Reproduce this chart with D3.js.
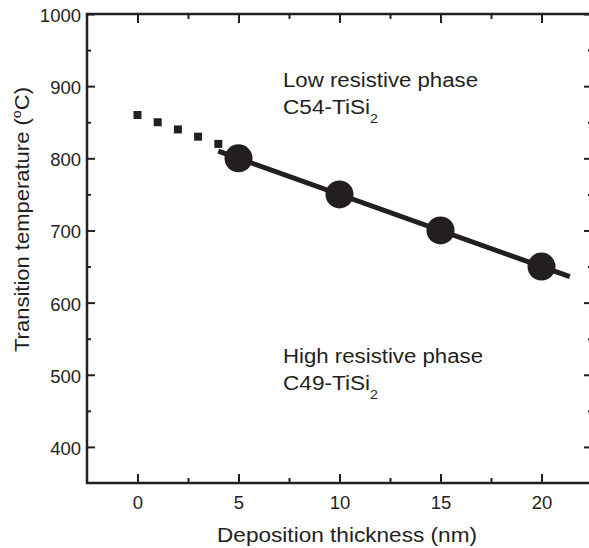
<!DOCTYPE html>
<html>
<head>
<meta charset="utf-8">
<script src="https://cdn.jsdelivr.net/npm/d3@7"></script>
<style>
  html, body { margin: 0; padding: 0; background: #fff; }
  svg { display: block; }
  text { font-family: "Liberation Sans", Arial, Helvetica, sans-serif; fill: #231f20; }
</style>
</head>
<body>
<svg id="chart" width="589" height="548"></svg>
<script>
// Onset temperature of the C49 -> C54 TiSi2 transformation vs. deposited thickness
const measuredThickness = [5, 10, 15, 20];          // nm
const measuredTemperature = [800, 750, 700, 650];   // °C
const extrapThickness = [0, 1, 2, 3, 4];            // nm
const extrapTemperature = [860, 850, 840, 830, 820];
const fitThickness = [4, 21.4];
const fitTemperature = [810, 636];

const xMajorTicks = [0, 5, 10, 15, 20];
const xMinorTicks = [2.5, 7.5, 12.5, 17.5];
const yMajorTicks = [400, 500, 600, 700, 800, 900, 1000];
const yMinorTicks = [450, 550, 650, 750, 850, 950];

const ink = "#231f20";
const svg = d3.select("#chart");

const plotLeft = 87, plotRight = 592, plotTop = 14, plotBottom = 483;
const x = d3.scaleLinear().domain([-2.5, 22.5]).range([plotLeft, plotRight]);
const y = d3.scaleLinear().domain([350, 1000]).range([plotBottom, plotTop]);

// Frame
svg.append("rect")
  .attr("x", plotLeft).attr("y", plotTop)
  .attr("width", plotRight - plotLeft).attr("height", plotBottom - plotTop)
  .attr("fill", "none").attr("stroke", ink).attr("stroke-width", 2.5);

function styleAxis(g, labelSize) {
  g.select(".domain").remove();
  g.selectAll(".tick line").attr("stroke", ink).attr("stroke-width", 2);
  g.selectAll(".tick text").attr("fill", ink)
    .style("font-family", '"Liberation Sans", Arial, sans-serif')
    .style("font-size", labelSize + "px");
}

// Bottom axis with labels
svg.append("g").attr("transform", `translate(0,${plotBottom})`)
  .call(d3.axisBottom(x).tickValues(xMajorTicks).tickFormat(d3.format("d"))
    .tickSizeInner(-9).tickSizeOuter(0))
  .call(g => styleAxis(g, 18.5))
  .call(g => g.selectAll(".tick text").attr("dy", "0.71em").attr("y", 12.5));
svg.append("g").attr("transform", `translate(0,${plotBottom})`)
  .call(d3.axisBottom(x).tickValues(xMinorTicks).tickSize(-5).tickFormat(""))
  .call(g => styleAxis(g, 18));

// Top axis (ticks only)
svg.append("g").attr("transform", `translate(0,${plotTop})`)
  .call(d3.axisTop(x).tickValues(xMajorTicks).tickSize(-9).tickFormat(""))
  .call(g => styleAxis(g, 18));
svg.append("g").attr("transform", `translate(0,${plotTop})`)
  .call(d3.axisTop(x).tickValues(xMinorTicks).tickSize(-5).tickFormat(""))
  .call(g => styleAxis(g, 18));

// Left axis with labels
svg.append("g").attr("transform", `translate(${plotLeft},0)`)
  .call(d3.axisLeft(y).tickValues(yMajorTicks).tickFormat(d3.format("d"))
    .tickSizeInner(-8).tickSizeOuter(0))
  .call(g => styleAxis(g, 18.5))
  .call(g => g.selectAll(".tick text").attr("x", -6).attr("dy", "0.4em"));
svg.append("g").attr("transform", `translate(${plotLeft},0)`)
  .call(d3.axisLeft(y).tickValues(yMinorTicks).tickSize(-4).tickFormat(""))
  .call(g => styleAxis(g, 18));

// Right axis (ticks only)
svg.append("g").attr("transform", `translate(${plotRight},0)`)
  .call(d3.axisRight(y).tickValues(yMajorTicks).tickSize(-8).tickFormat(""))
  .call(g => styleAxis(g, 18));
svg.append("g").attr("transform", `translate(${plotRight},0)`)
  .call(d3.axisRight(y).tickValues(yMinorTicks).tickSize(-4).tickFormat(""))
  .call(g => styleAxis(g, 18));

// Linear fit
svg.append("path")
  .datum(d3.zip(fitThickness, fitTemperature))
  .attr("d", d3.line().x(d => x(d[0])).y(d => y(d[1])))
  .attr("fill", "none").attr("stroke", ink).attr("stroke-width", 5);

// Extrapolated points
svg.selectAll("rect.extrap")
  .data(d3.zip(extrapThickness, extrapTemperature))
  .join("rect").attr("class", "extrap")
  .attr("x", d => x(d[0]) - 4).attr("y", d => y(d[1]) - 4)
  .attr("width", 8).attr("height", 8)
  .attr("fill", ink);

// Measured points
svg.selectAll("circle.meas")
  .data(d3.zip(measuredThickness, measuredTemperature))
  .join("circle").attr("class", "meas")
  .attr("cx", d => x(d[0])).attr("cy", d => y(d[1]))
  .attr("r", 14).attr("fill", ink);

// Phase annotations
function phaseLabel(xPos, yPos, line1, len1, formulaPrefix, len2) {
  svg.append("text").attr("x", xPos).attr("y", yPos)
    .attr("textLength", len1).attr("lengthAdjust", "spacingAndGlyphs")
    .style("font-size", "20px").text(line1);
  const t = svg.append("text").attr("x", xPos).attr("y", yPos + 27)
    .attr("textLength", len2).attr("lengthAdjust", "spacingAndGlyphs")
    .style("font-size", "20px");
  t.append("tspan").text(formulaPrefix);
  t.append("tspan").attr("dy", 9).style("font-size", "12.5px").text("2");
}
phaseLabel(283, 87, "Low resistive phase", 195, "C54-TiSi", 95);
phaseLabel(283, 363, "High resistive phase", 200, "C49-TiSi", 95);

// Axis titles
svg.append("text")
  .attr("x", 217).attr("y", 542)
  .attr("textLength", 260).attr("lengthAdjust", "spacingAndGlyphs")
  .style("font-size", "20px")
  .text("Deposition thickness (nm)");

const yt = svg.append("text")
  .attr("transform", "translate(28.5,352) rotate(-90)")
  .attr("textLength", 265).attr("lengthAdjust", "spacingAndGlyphs")
  .style("font-size", "20px");
yt.append("tspan").text("Transition temperature (");
yt.append("tspan").attr("dy", -8).style("font-size", "13px").text("o");
yt.append("tspan").attr("dy", 8).text("C)");
</script>
</body>
</html>
